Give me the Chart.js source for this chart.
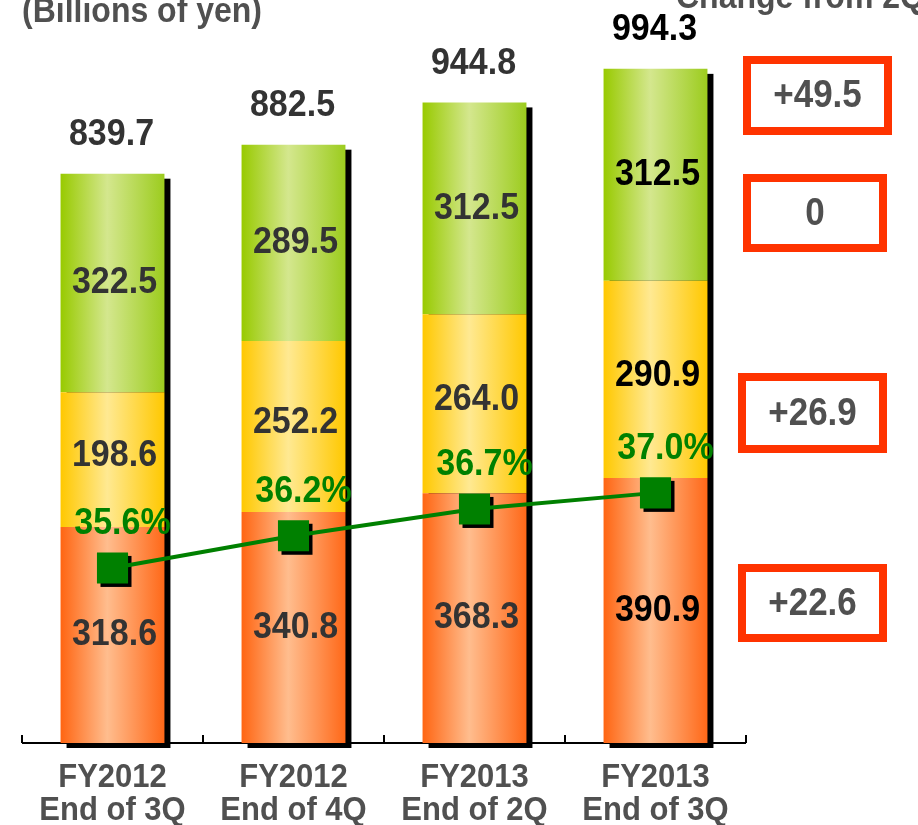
<!DOCTYPE html>
<html>
<head>
<meta charset="utf-8">
<script src="https://cdn.jsdelivr.net/npm/chart.js@4.4.1/dist/chart.umd.min.js"></script>
<style>
  html, body { margin: 0; padding: 0; background: #fff; }
  #wrap { position: relative; width: 918px; height: 825px; }
</style>
</head>
<body>
<div id="wrap"><canvas id="chart"></canvas></div>
<script>
// ── Data ────────────────────────────────────────────────────────────────────
const CATEGORIES    = [['FY2012', 'End of 3Q'], ['FY2012', 'End of 4Q'], ['FY2013', 'End of 2Q'], ['FY2013', 'End of 3Q']];
const ORANGE_VALUES = [318.6, 340.8, 368.3, 390.9];
const YELLOW_VALUES = [198.6, 252.2, 264.0, 290.9];
const GREEN_VALUES  = [322.5, 289.5, 312.5, 312.5];
const TOTALS        = [839.7, 882.5, 944.8, 994.3];
const RATIOS        = [35.6, 36.2, 36.7, 37.0];
const CHANGE_LABELS = ['+49.5', '0', '+26.9', '+22.6'];
const UNIT_LABEL    = '(Billions of yen)';
const CHANGE_TITLE  = 'Change from 2Q';

// ── Style ───────────────────────────────────────────────────────────────────
const FONT      = "'Liberation Sans', Arial, sans-serif";
const BAR_PCT   = 0.574;
const LINE_CLR  = '#008000';
const GRADIENTS = {
  orange: ['#ff6512', '#ffbd8e', '#ff6818'],
  yellow: ['#ffc800', '#ffe992', '#ffc800'],
  green:  ['#98ca00', '#d4e78e', '#9ccc1e'],
};

function barFill(stops) {
  return (ctx) => {
    const chart = ctx.chart;
    const area  = chart.chartArea;
    if (!area) return stops[0];
    const xs = chart.scales.x;
    const cw = (area.right - area.left) / CATEGORIES.length;
    const w  = cw * BAR_PCT;
    const cx = xs.getPixelForValue(ctx.dataIndex);
    const g  = chart.ctx.createLinearGradient(cx - w / 2, 0, cx + w / 2, 0);
    g.addColorStop(0,    stops[0]);
    g.addColorStop(0.45, stops[1]);
    g.addColorStop(1,    stops[2]);
    return g;
  };
}

// slightly taller text, like the original artwork
function tallText(ctx, text, x, y, sy = 1.1) {
  ctx.save();
  ctx.translate(x, y);
  ctx.scale(1, sy);
  ctx.fillText(text, 0, 0);
  ctx.restore();
}

// ── Shadows + axis (below bars) ─────────────────────────────────────────────
const underlayPlugin = {
  id: 'underlay',
  beforeDatasetsDraw(chart) {
    const ctx   = chart.ctx;
    const area  = chart.chartArea;
    const top   = chart.getDatasetMeta(3).data;
    const zeroY = chart.scales.y.getPixelForValue(0);
    ctx.save();
    ctx.fillStyle = '#000';
    top.forEach(bar => {
      const w = bar.width;
      ctx.fillRect(bar.x - w / 2 + 6, bar.y + 5, w, zeroY - bar.y);
    });
    // x axis line with upward ticks at category boundaries
    const xs = chart.scales.x;
    const cw = (area.right - area.left) / CATEGORIES.length;
    ctx.strokeStyle = '#000';
    ctx.lineWidth = 2;
    ctx.beginPath();
    ctx.moveTo(area.left, area.bottom);
    ctx.lineTo(area.right, area.bottom);
    for (let i = 0; i <= CATEGORIES.length; i++) {
      const x = Math.round(xs.getPixelForValue(0) - cw / 2 + i * cw);
      ctx.moveTo(x, area.bottom);
      ctx.lineTo(x, area.bottom - 8);
    }
    ctx.stroke();
    ctx.restore();
  },
  beforeDatasetDraw(chart, args) {
    if (args.index !== 0) return;
    const ctx = chart.ctx;
    ctx.save();
    ctx.fillStyle = '#000';
    args.meta.data.forEach(p => ctx.fillRect(p.x - 15 + 3, p.y - 15 + 3, 31, 31));
    ctx.restore();
  },
};

// ── Labels and side boxes ───────────────────────────────────────────────────
const labelPlugin = {
  id: 'labels',
  afterDatasetsDraw(chart) {
    const ctx  = chart.ctx;
    const last = CATEGORIES.length - 1;
    ctx.save();
    ctx.textAlign = 'center';
    ctx.textBaseline = 'middle';

    // segment values
    ctx.font = `bold 34px ${FONT}`;
    [1, 2, 3].forEach(di => {
      const vals = chart.data.datasets[di].data;
      chart.getDatasetMeta(di).data.forEach((bar, i) => {
        ctx.fillStyle = i === last ? '#000' : '#333';
        const yOff = di === 2 ? -4 : 0;
        tallText(ctx, vals[i].toFixed(1), bar.x + 2, (bar.y + bar.base) / 2 + yOff);
      });
    });

    // totals
    chart.getDatasetMeta(3).data.forEach((bar, i) => {
      ctx.fillStyle = i === last ? '#000' : '#333';
      tallText(ctx, TOTALS[i].toFixed(1), bar.x - 1, bar.y - 39);
    });

    // ratio labels
    ctx.fillStyle = LINE_CLR;
    chart.getDatasetMeta(0).data.forEach((p, i) => {
      tallText(ctx, RATIOS[i].toFixed(1) + '%', p.x + 10, p.y - 44);
    });

    // category labels
    ctx.fillStyle = '#505050';
    ctx.font = `bold 31px ${FONT}`;
    const xs = chart.scales.x;
    CATEGORIES.forEach((lines, i) => {
      const x = xs.getPixelForValue(i);
      tallText(ctx, lines[0], x, 778);
      tallText(ctx, lines[1], x, 811);
    });

    // titles
    ctx.textAlign = 'left';
    ctx.textBaseline = 'alphabetic';
    ctx.font = `bold 32px ${FONT}`;
    tallText(ctx, UNIT_LABEL, 22, 22);
    tallText(ctx, CHANGE_TITLE, 676, 8);

    // change-from-2Q boxes
    const boxes = [[743, 56, 149, 79], [743, 174, 144, 78], [738, 373, 149, 80], [738, 564, 149, 78]];
    ctx.textAlign = 'center';
    ctx.textBaseline = 'middle';
    ctx.font = `bold 35px ${FONT}`;
    boxes.forEach(([x, y, w, h], i) => {
      ctx.strokeStyle = '#ff3300';
      ctx.lineWidth = 8;
      ctx.strokeRect(x + 4, y + 4, w - 8, h - 8);
      ctx.fillStyle = '#505050';
      tallText(ctx, CHANGE_LABELS[i], x + w / 2, y + h / 2 + 1);
    });
    ctx.restore();
  },
};

new Chart(document.getElementById('chart'), {
  type: 'bar',
  data: {
    labels: CATEGORIES.map(c => c.join(' ')),
    datasets: [
      {
        type: 'line',
        label: 'Ratio',
        data: RATIOS,
        yAxisID: 'y2',
        borderColor: LINE_CLR,
        borderWidth: 4,
        backgroundColor: LINE_CLR,
        pointStyle: 'rect',
        pointRadius: 22,
        pointBorderWidth: 0,
        tension: 0,
        order: 0,
      },
      { label: 'Orange', data: ORANGE_VALUES, backgroundColor: barFill(GRADIENTS.orange), order: 1, stack: 's' },
      { label: 'Yellow', data: YELLOW_VALUES, backgroundColor: barFill(GRADIENTS.yellow), order: 1, stack: 's' },
      { label: 'Green',  data: GREEN_VALUES,  backgroundColor: barFill(GRADIENTS.green),  order: 1, stack: 's' },
    ],
  },
  options: {
    responsive: true,
    maintainAspectRatio: false,
    animation: false,
    layout: { padding: { left: 15, right: 172, top: 65, bottom: 82 } },
    datasets: { bar: { barPercentage: BAR_PCT, categoryPercentage: 1, borderWidth: 0 } },
    scales: {
      x:  { display: false, stacked: true },
      y:  { display: false, stacked: true, min: 0, max: 1000 },
      y2: { display: false, min: 32.335, max: 44.98 },
    },
    plugins: {
      legend:  { display: false },
      tooltip: { enabled: false },
    },
  },
  plugins: [underlayPlugin, labelPlugin],
});
</script>
</body>
</html>
